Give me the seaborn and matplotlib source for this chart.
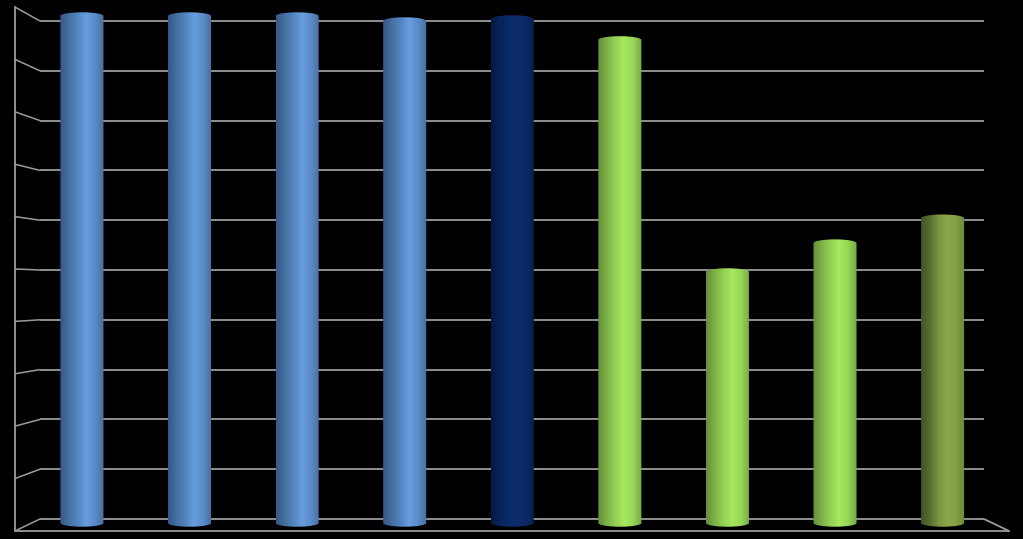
import numpy as np
import pandas as pd
import seaborn as sns
import matplotlib
matplotlib.use("Agg")
import matplotlib.pyplot as plt
from matplotlib.path import Path
from matplotlib.patches import PathPatch
from matplotlib.colors import LinearSegmentedColormap

categories = ["A", "B", "C", "D", "E", "F", "G", "H", "I"]
values = [10.10, 10.10, 10.10, 10.00, 10.04, 9.62, 4.96, 5.54, 6.04]
groups = ["blue", "blue", "blue", "blue", "navy", "green", "green", "green", "olive"]
grid_values = list(range(0, 11))

ramps = {
    "blue": ["#34598a", "#44719f", "#5485c2", "#689dde", "#5a8ccb", "#44709f"],
    "navy": ["#051a42", "#08245a", "#0a2a66", "#0c2e6e", "#0a2a66", "#061e4c"],
    "green": ["#628f39", "#7db347", "#94d254", "#a6e85e", "#97d856", "#74aa42"],
    "olive": ["#44552a", "#566d2e", "#7a9540", "#8ca84c", "#84a044", "#6e8838"],
}
base = -0.08
bar_width = 0.40

sns.set_theme(style="white")
fig = plt.figure(figsize=(10.23, 5.39), dpi=100, facecolor="black")
ax = fig.add_axes([40 / 1023, 20 / 539, 944 / 1023, 498 / 539], facecolor="black")
df = pd.DataFrame({"category": categories, "value": values})
sns.barplot(data=df, x="category", y="value", color="black", width=bar_width,
            errorbar=None, ax=ax, zorder=3)
left, right = -0.39, 8.385
ax.set_xlim(left, right)
ax.set_ylim(0, 10)
ax.axis("off")

line = "#9c9c9c"
ax.hlines(grid_values, left, right, color=line, lw=1.3, zorder=1, clip_on=False)

# walls: perspective projection of the back grid onto the front plane
dx = 25 / 107.6
front = lambda v: -0.24 + 1.052 * v
for v in grid_values:
    ax.plot([left - dx, left], [front(v), v], color=line, lw=1.1, zorder=1, clip_on=False)
ax.plot([left - dx, left - dx], [front(0), front(10)], color=line, lw=1.3, zorder=1, clip_on=False)
ax.plot([left - dx, right + dx], [front(0), front(0)], color=line, lw=1.3, zorder=1, clip_on=False)
ax.plot([right, right + dx], [0, front(0)], color=line, lw=1.3, zorder=1, clip_on=False)

# shaded cylinders from the bars' own geometry
ell_h = 0.075
theta = np.linspace(0, np.pi, 40)
for patch, group in zip(ax.patches, groups):
    x, w, ytop = patch.get_x(), patch.get_width(), patch.get_height()
    patch.set_visible(False)
    cx = x + w / 2
    cmap = LinearSegmentedColormap.from_list(group, ramps[group])
    grad = np.linspace(0, 1, 128)[None, :]
    im = ax.imshow(grad, cmap=cmap, extent=[x, x + w, base - ell_h, ytop + ell_h],
                   aspect="auto", zorder=3, interpolation="bilinear")
    top_arc = np.column_stack([cx + w / 2 * np.cos(theta), ytop + ell_h * np.sin(theta)])
    bot_arc = np.column_stack([cx - w / 2 * np.cos(theta), base - ell_h * np.sin(theta)])
    outline = np.vstack([top_arc, bot_arc, top_arc[:1]])
    clipper = PathPatch(Path(outline, closed=True), transform=ax.transData, fc="none", ec="none")
    ax.add_patch(clipper)
    im.set_clip_path(clipper)
    im.set_clip_box(fig.bbox)

ax.set_xlim(left, right)
ax.set_ylim(0, 10)
fig.savefig("out.png", dpi=100, facecolor="black")
